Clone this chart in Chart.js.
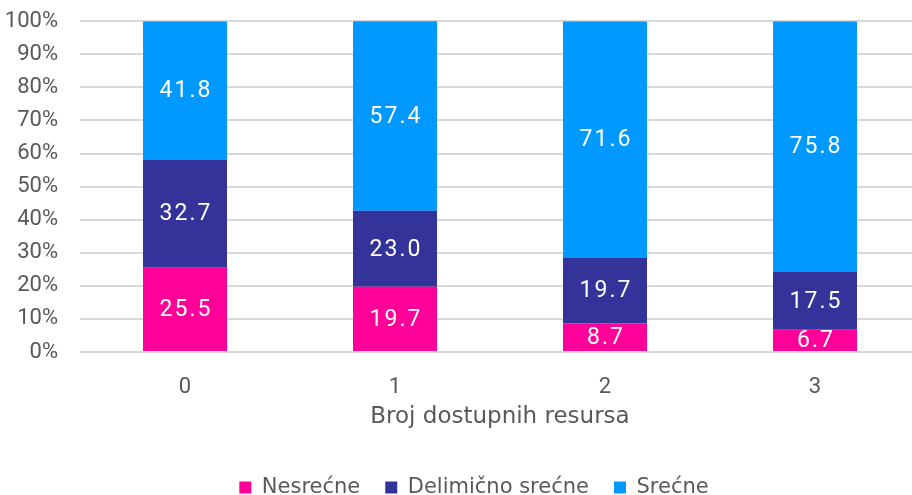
<!DOCTYPE html>
<html>
<head>
<meta charset="utf-8">
<script src="https://cdn.jsdelivr.net/npm/chart.js@4"></script>
<style>
  html, body { margin: 0; padding: 0; overflow: hidden; background: #fff; }
  #wrap { width: 940px; height: 522px; margin-top: -14px; }
</style>
</head>
<body>
<div id="wrap"><canvas id="myChartBar"></canvas></div>
<script>
const categories = ['0', '1', '2', '3'];
const nesrecne = [25.5, 19.7, 8.7, 6.7];
const delimicno = [32.7, 23.0, 19.7, 17.5];
const srecne = [41.8, 57.4, 71.6, 75.8];
const yTicks = [0, 10, 20, 30, 40, 50, 60, 70, 80, 90, 100];

// write the value in the middle of every bar segment
const valueLabels = {
  id: 'valueLabels',
  afterDatasetsDraw(chart) {
    const ctx = chart.ctx;
    ctx.save();
    ctx.fillStyle = '#ffffff';
    ctx.font = '23px Roboto';
    ctx.letterSpacing = '2px';
    ctx.textAlign = 'center';
    ctx.textBaseline = 'middle';
    chart.data.datasets.forEach((ds, i) => {
      chart.getDatasetMeta(i).data.forEach((bar, j) => {
        const mid = (bar.y + bar.base) / 2;
        ctx.fillText(ds.data[j].toFixed(1), bar.x + 1, mid + 1);
      });
    });
    ctx.restore();
  }
};

// legend sits a bit right of the canvas centre in the original
const legendShift = {
  id: 'legendShift',
  afterLayout(chart) {
    chart.legend.left += 14;
    chart.legend.right += 14;
  }
};

const ctx = document.getElementById('myChartBar');
new Chart(ctx, {
  type: 'bar',
  data: {
    labels: categories,
    datasets: [{
      label: 'Nesrećne',
      data: nesrecne,
      backgroundColor: '#ff0099',
    },
    {
      label: 'Delimično srećne',
      data: delimicno,
      backgroundColor: '#333399',
    },
    {
      label: 'Srećne',
      data: srecne,
      backgroundColor: '#0099ff',
    }
    ]
  },
  options: {
    responsive: true,
    maintainAspectRatio: false,
    animation: false,
    categoryPercentage: 1,
    barPercentage: 0.4,
    layout: { padding: { top: 0, bottom: 0, left: 0, right: 20 } },
    plugins: {
      tooltip: { enabled: false },
      legend: {
        position: 'bottom',
        labels: {
          font: { family: 'DejaVu Sans', size: 21 },
          color: '#595959',
          boxWidth: 12,
          boxHeight: 12,
          padding: 25
        }
      }
    },
    scales: {
      x: {
        stacked: true,
        grid: { display: false, drawTicks: false },
        border: { display: false },
        ticks: {
          font: { family: 'Roboto', size: 22 },
          color: '#595959',
          padding: 22
        },
        title: {
          display: true,
          text: 'Broj dostupnih resursa',
          font: { family: 'DejaVu Sans', size: 23 },
          color: '#595959',
          padding: { top: 4, bottom: 21 }
        },
        afterFit(scale) { scale.height = 100; }
      },
      y: {
        stacked: true,
        min: 0,
        max: 100,
        afterBuildTicks(scale) { scale.ticks = yTicks.map(v => ({ value: v })); },
        grid: { color: '#d9d9d9', lineWidth: 2, drawTicks: false },
        border: { display: false },
        ticks: {
          font: { family: 'Roboto', size: 22 },
          color: '#595959',
          padding: 22,
          callback: v => v + '%'
        },
        afterFit(scale) { scale.width = 80; }
      }
    }
  },
  plugins: [valueLabels, legendShift]
});
</script>
</body>
</html>
